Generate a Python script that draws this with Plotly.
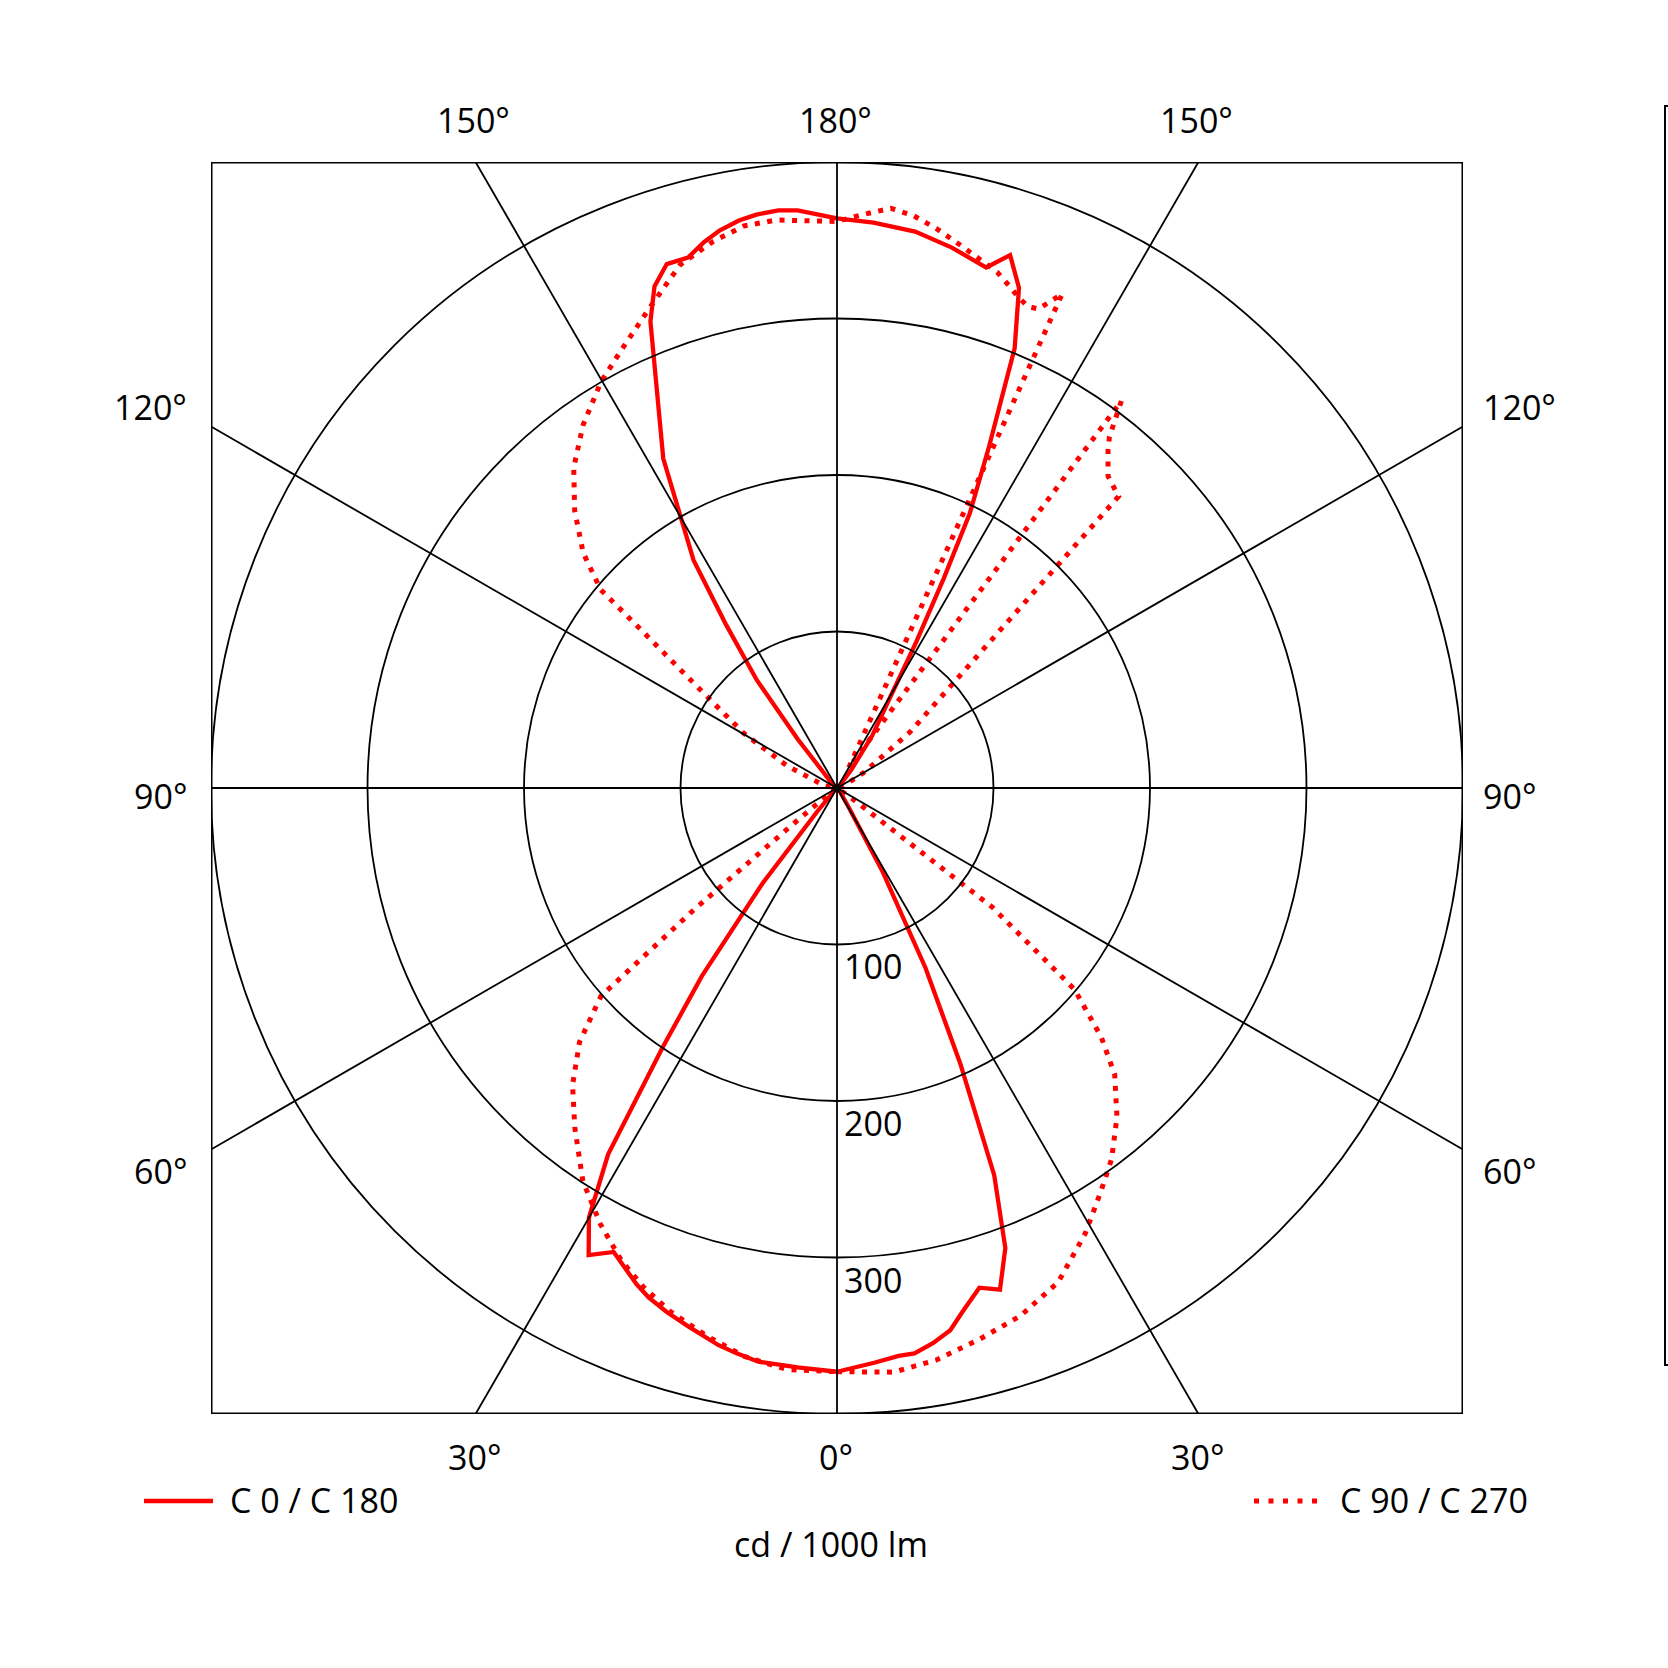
import plotly.graph_objects as go

# ---------------- data (gamma angle in degrees, intensity in cd/1000 lm) ----------------
# C0 half-plane (drawn on the right), solid
c0_lower_gamma = [0, 3.7, 6.2, 7.8, 9.8, 11.8, 13.5, 15.9, 18, 20.1, 22.1, 24.1, 26.2, 28.6, 31, 40, 90]
c0_lower_cd = [373, 368, 365, 364.6, 360, 354, 344, 332, 337, 313, 267, 193, 128, 61, 15, 3, 0]
c0_upper_gamma = [90, 135, 142, 146, 149, 151.5, 153, 154.2, 156, 158, 160, 162, 164, 168, 172, 176.3, 180]
c0_upper_cd = [0, 3, 15, 40, 60, 106, 150, 195, 239, 303, 340, 358, 346, 353, 359, 362, 364]

# C180 half-plane (drawn on the left), solid
c180_upper_gamma = [180, 176.1, 174.2, 172, 170.2, 168.1, 166.3, 164.3, 162, 160, 158.2, 152.2, 147.8, 145.8, 143.4, 141.2, 138, 120, 90]
c180_upper_cd = [364, 370, 371, 370, 368, 364, 359, 352, 352, 341, 321, 238, 172, 126, 86, 40, 10, 2, 0]
c180_lower_gamma = [90, 45, 40, 38, 35.7, 33.9, 32, 30, 28, 25.7, 22, 20.3, 18, 15.4, 12, 10, 7.8, 3.9, 0]
c180_lower_cd = [0, 3, 20, 77, 148, 200, 276, 317, 338, 329, 342, 347, 352, 357, 364, 367, 370, 371, 373]

# C90 half-plane (drawn on the right), dotted
c90_lower_gamma = [0, 5.5, 9.8, 14.4, 19.2, 24.1, 29.1, 33.2, 36.5, 40.4, 44.1, 46.7, 49.7, 52.5, 55, 90]
c90_lower_cd = [373, 375, 371, 364, 357, 346, 326, 308, 295, 276, 255, 232, 199, 125, 12, 0]
c90_upper_gamma = [90, 110, 120, 127.5, 136, 139, 141.3, 142.2, 143.7, 150, 155.5, 157.2, 158.4, 159.6,
                   161.3, 162.7, 164.9, 167.3, 169.9, 172.4, 174.7, 177.3, 180]
c90_upper_cd = [0, 5, 20, 59, 259, 264, 277, 284, 307, 15, 347, 332, 331, 334,
                340, 345, 350, 356, 363, 369, 372, 367, 362]

# C270 half-plane (drawn on the left), dotted
c270_upper_gamma = [180, 173.9, 170.6, 167.2, 163.3, 158.6, 153.8, 149.8, 145, 140.6, 136.6, 132.8, 130, 129,
                    126.4, 120.4, 114, 100, 90]
c270_upper_cd = [362, 365, 364, 358, 349, 329, 312, 300, 283, 265, 244, 221, 197, 163, 116, 69, 35, 8, 0]
c270_lower_gamma = [90, 55, 50.5, 49.6, 48.6, 45.4, 41.7, 37.7, 32.9, 28.5, 24.5, 21.2, 17.7, 13.3, 9.25, 4.9, 0]
c270_lower_cd = [0, 5, 40, 120, 201, 231, 254, 274, 299, 317, 332, 342, 351, 360, 368, 373, 373]

radial_ticks = [100, 200, 300]
ring_values = [100, 200, 300, 400]
series_names = ["C 0 / C 180", "C 90 / C 270"]
unit_label = "cd / 1000 lm"
top_labels = ["150°", "180°", "150°"]
side_labels = ["120°", "90°", "60°"]
bottom_labels = ["30°", "0°", "30°"]

# ---------------- layout geometry (pixels) ----------------
W = H = 1668
CX, CY, HALF = 837, 788, 626
RMAX = 400
RED = "#ff0000"
FONT = "Open Sans"
FS = 34


def px(x):
    return x / W


def py(y):
    return 1 - y / H


dom_x = [px(CX - HALF), px(CX + HALF)]
dom_y = [py(CY + HALF), py(CY - HALF)]


def full_curve(right_low_g, right_low_r, right_up_g, right_up_r, left_up_g, left_up_r, left_low_g, left_low_r):
    theta = list(right_low_g) + list(right_up_g[1:]) + [360 - g for g in left_up_g[1:]] + [360 - g for g in left_low_g[1:]]
    r = list(right_low_r) + list(right_up_r[1:]) + list(left_up_r[1:]) + list(left_low_r[1:])
    return theta, r


th1, r1 = full_curve(c0_lower_gamma, c0_lower_cd, c0_upper_gamma, c0_upper_cd,
                     c180_upper_gamma, c180_upper_cd, c180_lower_gamma, c180_lower_cd)
th2, r2 = full_curve(c90_lower_gamma, c90_lower_cd, c90_upper_gamma, c90_upper_cd,
                     c270_upper_gamma, c270_upper_cd, c270_lower_gamma, c270_lower_cd)

fig = go.Figure()
# invisible anchor for the cartesian frame used by the grid shapes
fig.add_trace(go.Scatter(x=[0], y=[0], mode="markers", marker=dict(opacity=0),
                         hoverinfo="skip", showlegend=False))
fig.add_trace(go.Scatterpolar(theta=th1, r=r1, mode="lines", name=series_names[0],
                              line=dict(color=RED, width=4.3), showlegend=False))
fig.add_trace(go.Scatterpolar(theta=th2, r=r2, mode="lines", name=series_names[1],
                              line=dict(color=RED, width=5, dash="5px,7.5px"), showlegend=False))

shapes = []
GRID = dict(color="black", width=1.8)
for rv in ring_values:
    shapes.append(dict(type="circle", xref="x", yref="y", x0=-rv, y0=-rv, x1=rv, y1=rv,
                       line=GRID, layer="above"))
t30 = 400 * (3 ** 0.5) / 3
for (x0, y0, x1, y1) in [(0, -400, 0, 400), (-400, 0, 400, 0),
                         (-t30, -400, t30, 400), (t30, -400, -t30, 400),
                         (-400, -t30, 400, t30), (-400, t30, 400, -t30)]:
    shapes.append(dict(type="line", xref="x", yref="y", x0=x0, y0=y0, x1=x1, y1=y1,
                       line=GRID, layer="above"))
shapes.append(dict(type="rect", xref="x", yref="y", x0=-400, y0=-400, x1=400, y1=400,
                   line=dict(color="black", width=3), layer="above"))
# legend samples
shapes.append(dict(type="line", xref="paper", yref="paper", x0=px(144), x1=px(213), y0=py(1501), y1=py(1501),
                   line=dict(color=RED, width=4.5)))
shapes.append(dict(type="line", xref="paper", yref="paper", x0=px(1254), x1=px(1318), y0=py(1501), y1=py(1501),
                   line=dict(color=RED, width=5, dash="5px,9.5px")))
# partial frame at the right edge
shapes.append(dict(type="rect", xref="paper", yref="paper", x0=px(1665), x1=px(1700), y0=py(1365), y1=py(106),
                   line=dict(color="black", width=2)))

annotations = []


def lab(text, x, y, anchor="center"):
    annotations.append(dict(text=text, x=px(x), y=py(y), xref="paper", yref="paper", showarrow=False,
                            xanchor=anchor, yanchor="middle", font=dict(family=FONT, size=FS, color="black")))


for t, x in zip(top_labels, [473, 835, 1196]):
    lab(t, x, 120)
for t, x in zip(bottom_labels, [474, 836, 1197]):
    lab(t, x, 1457)
for t, y in zip(side_labels, [407, 796, 1171]):
    lab(t, 189, y, "right")
    lab(t, 1481, y, "left")
for v in radial_ticks:
    lab(str(v), 842, CY + v * HALF / RMAX + 22, "left")
lab(series_names[0], 228, 1500, "left")
lab(series_names[1], 1338, 1500, "left")
lab(unit_label, 831, 1544)

fig.update_layout(
    width=W, height=H, autosize=False,
    margin=dict(l=0, r=0, t=0, b=0, pad=0),
    paper_bgcolor="white", plot_bgcolor="rgba(0,0,0,0)",
    xaxis=dict(range=[-RMAX, RMAX], domain=dom_x, visible=False, fixedrange=True),
    yaxis=dict(range=[-RMAX, RMAX], domain=dom_y, visible=False, fixedrange=True),
    polar=dict(domain=dict(x=dom_x, y=dom_y), bgcolor="rgba(0,0,0,0)",
               radialaxis=dict(range=[0, RMAX], visible=False),
               angularaxis=dict(rotation=-90, direction="counterclockwise", visible=False)),
    shapes=shapes, annotations=annotations, showlegend=False,
)

fig.write_html("out.html", config={"displayModeBar": False},
               post_script="document.body.style.margin='0';document.body.style.overflow='hidden';")
